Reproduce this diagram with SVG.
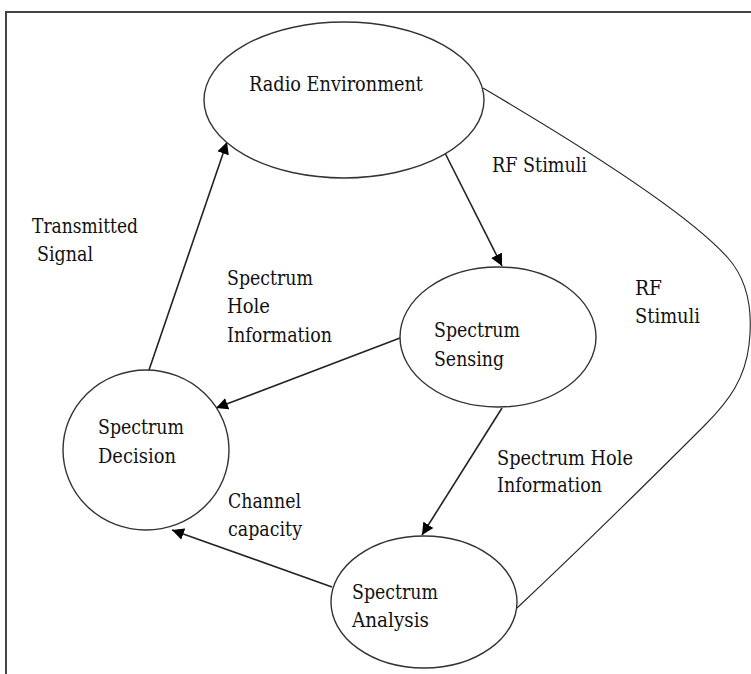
<svg xmlns="http://www.w3.org/2000/svg" width="751" height="674" viewBox="0 0 751 674">
<style>
.node ellipse{fill:#fff;stroke:#333;stroke-width:1.4}
.t{font-family:'DejaVu Serif','Liberation Serif',serif;font-size:21px;fill:#111}
.edge{stroke:#222;stroke-width:1.6;fill:none}
.thin{stroke:#222;stroke-width:1.1;fill:none}
.frame{stroke:#444;stroke-width:2;fill:none}
</style>
<defs>
<marker id="ah" viewBox="0 0 10 10" refX="10" refY="5" markerWidth="12" markerHeight="12" markerUnits="userSpaceOnUse" orient="auto">
<path d="M0,0 L10,5 L0,10 z" fill="#000"/>
</marker>
</defs>
<rect width="751" height="674" fill="#fff"/>
<path class="frame" d="M6,674 L6,12 L751,12"/>
<g id="connectors">
<line class="edge" x1="445" y1="153" x2="502" y2="266" marker-end="url(#ah)"/>
<line class="edge" x1="149" y1="370" x2="227" y2="142" marker-end="url(#ah)"/>
<line class="edge" x1="400" y1="338" x2="216" y2="408" marker-end="url(#ah)"/>
<line class="edge" x1="502" y1="408" x2="422" y2="535" marker-end="url(#ah)"/>
<line class="edge" x1="332" y1="587" x2="172" y2="530" marker-end="url(#ah)"/>
<path class="thin" d="M483,88 C580,145 690,215 728,258 C752,285 752,320 749,345 C745,378 730,400 705,425 C670,460 600,530 517,608"/>
</g>
<g id="radio-environment" class="node">
<ellipse cx="344" cy="100" rx="140" ry="78"/>
<text class="t" x="249" y="91" textLength="174" lengthAdjust="spacingAndGlyphs">Radio Environment</text>
</g>
<g id="spectrum-sensing" class="node">
<ellipse cx="498" cy="337" rx="98" ry="70"/>
<text class="t" x="434" y="337" textLength="86" lengthAdjust="spacingAndGlyphs">Spectrum</text>
<text class="t" x="434" y="366" textLength="70" lengthAdjust="spacingAndGlyphs">Sensing</text>
</g>
<g id="spectrum-decision" class="node">
<ellipse cx="146" cy="450" rx="83" ry="80"/>
<text class="t" x="98" y="434" textLength="86" lengthAdjust="spacingAndGlyphs">Spectrum</text>
<text class="t" x="98" y="463" textLength="78" lengthAdjust="spacingAndGlyphs">Decision</text>
</g>
<g id="spectrum-analysis" class="node">
<ellipse cx="424" cy="602" rx="93" ry="66"/>
<text class="t" x="352" y="599" textLength="86" lengthAdjust="spacingAndGlyphs">Spectrum</text>
<text class="t" x="352" y="627" textLength="77" lengthAdjust="spacingAndGlyphs">Analysis</text>
</g>
<g id="labels">
<text class="t" x="492" y="172" textLength="95" lengthAdjust="spacingAndGlyphs">RF Stimuli</text>
<text class="t" x="32" y="233" textLength="106" lengthAdjust="spacingAndGlyphs">Transmitted</text>
<text class="t" x="37" y="261" textLength="56" lengthAdjust="spacingAndGlyphs">Signal</text>
<text class="t" x="227" y="285" textLength="86" lengthAdjust="spacingAndGlyphs">Spectrum</text>
<text class="t" x="227" y="313" textLength="43" lengthAdjust="spacingAndGlyphs">Hole</text>
<text class="t" x="227" y="342" textLength="105" lengthAdjust="spacingAndGlyphs">Information</text>
<text class="t" x="635" y="295" textLength="27" lengthAdjust="spacingAndGlyphs">RF</text>
<text class="t" x="635" y="323" textLength="65" lengthAdjust="spacingAndGlyphs">Stimuli</text>
<text class="t" x="497" y="465" textLength="136" lengthAdjust="spacingAndGlyphs">Spectrum Hole</text>
<text class="t" x="497" y="492" textLength="105" lengthAdjust="spacingAndGlyphs">Information</text>
<text class="t" x="228" y="508" textLength="73" lengthAdjust="spacingAndGlyphs">Channel</text>
<text class="t" x="228" y="536" textLength="74" lengthAdjust="spacingAndGlyphs">capacity</text>
</g>
</svg>
